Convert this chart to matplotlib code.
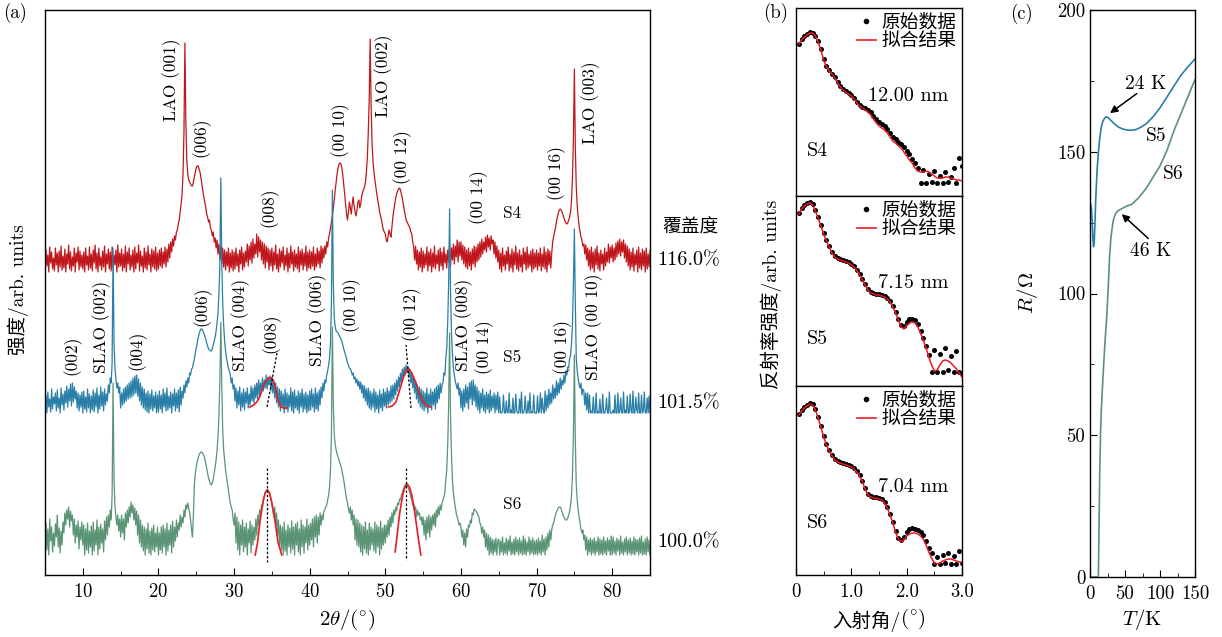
import numpy as np
import matplotlib.pyplot as plt
from matplotlib.lines import Line2D
from matplotlib.ticker import MultipleLocator

plt.rcParams['font.family'] = ['cmr10', 'Noto Sans CJK SC']
plt.rcParams['mathtext.fontset'] = 'cm'
plt.rcParams['axes.formatter.use_mathtext'] = True
plt.rcParams['axes.unicode_minus'] = False
plt.rcParams['axes.linewidth'] = 1.0

W, H = 1222, 637
RED, BLUE, GREEN = '#c0171d', '#2a7fa8', '#5a9475'
FIT = '#ec1b22'

# ---------------- (a) XRD, 2theta from 5 to 85 in 0.125 deg steps (one row = 5 deg)
two_theta = np.arange(5, 85.001, 0.125)

s4_xrd = [2, 22, 6, 17, 0, 25, 9, 20, 3, 14, 1, 24, 7, 19, 0, 21, 5, 26, 2, 16, 4, 23, 0, 18, 8, 27, 3, 20, 1, 15, 6, 24, 0, 19, 10, 25, 2, 21, 5, 17,
          3, 20, 0, 24, 7, 16, 2, 25, 4, 18, 1, 22, 9, 27, 3, 19, 0, 24, 6, 15, 2, 21, 5, 26, 0, 18, 8, 23, 3, 20, 1, 25, 4, 17, 7, 22, 0, 27, 5, 19,
          6, 23, 1, 18, 4, 26, 0, 20, 8, 24, 2, 17, 5, 22, 0, 25, 3, 19, 9, 27, 1, 21, 6, 16, 0, 24, 4, 20, 2, 26, 7, 18, 0, 23, 5, 21, 3, 25, 1, 19,
          3, 22, 6, 24, 4, 20, 8, 25, 5, 23, 10, 28, 14, 30, 20, 33, 26, 36, 32, 40, 42, 48, 52, 60, 68, 78, 98, 140, 229, 150, 112, 98, 92, 90, 88, 86, 86, 90, 95, 100,
          104, 106, 106, 103, 100, 94, 88, 81, 75, 70, 65, 58, 55, 50, 52, 44, 42, 36, 40, 30, 34, 24, 32, 18, 28, 12, 26, 8, 24, 5, 22, 2, 20, 6, 24, 0, 19, 4, 22, 1,
          20, 3, 24, 6, 18, 0, 22, 8, 25, 2, 19, 5, 21, 10, 28, 6, 26, 12, 30, 9, 33, 14, 28, 18, 38, 15, 35, 20, 32, 12, 30, 8, 28, 4, 26, 10, 24, 2, 22, 6,
          24, 1, 20, 7, 27, 3, 18, 0, 23, 5, 21, 9, 25, 2, 17, 6, 24, 0, 19, 4, 26, 8, 20, 1, 22, 5, 18, 3, 25, 0, 21, 7, 23, 2, 19, 6, 26, 1, 20, 4,
          22, 3, 20, 6, 25, 2, 18, 5, 24, 8, 21, 4, 26, 9, 24, 14, 26, 18, 30, 25, 34, 38, 44, 50, 56, 64, 72, 82, 90, 98, 104, 108, 109, 108, 104, 97, 88, 78, 68, 58,
          52, 60, 70, 64, 58, 68, 75, 66, 60, 56, 62, 70, 72, 64, 68, 76, 80, 82, 85, 90, 100, 115, 140, 175, 233, 165, 128, 110, 100, 92, 85, 78, 72, 66, 60, 56, 52, 46, 42, 40,
          38, 32, 30, 36, 42, 38, 35, 45, 55, 62, 68, 74, 78, 81, 83, 84, 82, 78, 74, 68, 62, 57, 52, 50, 48, 46, 44, 40, 38, 30, 25, 12, 26, 8, 22, 2, 20, 5, 24, 0,
          21, 4, 18, 7, 25, 1, 20, 6, 23, 0, 19, 5, 26, 3, 17, 8, 22, 1, 24, 6, 20, 2, 25, 9, 18, 4, 22, 10, 27, 6, 24, 12, 28, 8, 26, 15, 32, 10, 30, 16,
          30, 12, 27, 8, 25, 5, 22, 3, 24, 6, 20, 2, 23, 8, 26, 5, 25, 10, 28, 12, 30, 15, 33, 18, 30, 22, 35, 20, 37, 25, 34, 22, 36, 28, 32, 18, 30, 14, 26, 10,
          22, 3, 19, 0, 24, 6, 17, 2, 21, 8, 25, 1, 18, 4, 23, 0, 20, 7, 26, 3, 19, 1, 22, 5, 17, 0, 24, 8, 20, 2, 25, 4, 18, 6, 21, 0, 23, 3, 19, 5,
          22, 2, 19, 6, 24, 1, 18, 5, 25, 3, 20, 0, 23, 7, 21, 4, 18, 30, 35, 40, 44, 50, 55, 59, 62, 63, 62, 60, 57, 54, 51, 49, 48, 49, 52, 55, 60, 72, 95, 135,
          203, 125, 85, 66, 55, 46, 40, 35, 32, 26, 28, 18, 27, 12, 24, 6, 22, 2, 25, 4, 20, 0, 23, 7, 26, 3, 19, 1, 22, 8, 18, 2, 24, 6, 20, 10, 28, 9, 25, 14,
          27, 10, 24, 12, 29, 15, 31, 18, 33, 16, 30, 20, 32, 14, 28, 10, 26, 6, 23, 2, 20, 5, 24, 1, 18, 7, 22, 0, 25, 4, 19, 2, 23, 6, 21, 0, 24, 3, 18, 5,
          21]

s5_xrd = [3, 18, 0, 21, 6, 14, 1, 24, 4, 16, 9, 20, 2, 23, 5, 15, 0, 25, 8, 19, 3, 22, 10, 27, 6, 24, 12, 29, 7, 30, 11, 26, 14, 22, 5, 20, 2, 18, 6, 21,
          0, 22, 4, 16, 1, 24, 5, 19, 0, 17, 3, 23, 1, 20, 6, 25, 0, 18, 4, 26, 7, 21, 2, 24, 8, 19, 12, 28, 20, 35, 30, 50, 165, 70, 45, 34, 25, 30, 20, 26,
          5, 20, 8, 24, 10, 26, 12, 28, 14, 30, 15, 32, 16, 35, 18, 37, 20, 38, 17, 34, 12, 30, 8, 26, 5, 24, 3, 20, 1, 22, 0, 19, 4, 23, 2, 17, 5, 21, 0, 18,
          1, 22, 4, 18, 0, 24, 6, 20, 2, 25, 3, 17, 5, 21, 0, 19, 7, 24, 2, 20, 5, 23, 1, 26, 8, 22, 15, 28, 20, 32, 26, 35, 30, 40, 38, 44, 45, 50, 54, 60,
          65, 70, 75, 79, 82, 84, 84, 82, 80, 77, 74, 70, 67, 64, 63, 62, 62, 64, 68, 72, 76, 82, 90, 100, 118, 150, 235, 150, 110, 88, 72, 62, 55, 50, 45, 42, 38, 30, 35, 24,
          28, 12, 25, 5, 22, 8, 26, 2, 20, 6, 24, 3, 21, 10, 25, 5, 19, 8, 27, 12, 25, 10, 28, 15, 30, 14, 33, 18, 30, 20, 35, 22, 33, 25, 38, 24, 36, 28, 37, 22,
          36, 20, 33, 15, 30, 10, 26, 6, 24, 2, 22, 5, 19, 0, 24, 4, 20, 1, 18, 6, 25, 2, 21, 0, 23, 5, 17, 3, 22, 0, 20, 6, 24, 1, 19, 4, 21, 0, 18, 2,
          22, 3, 24, 6, 19, 1, 25, 4, 20, 2, 23, 8, 26, 15, 30, 22, 33, 30, 38, 42, 48, 55, 70, 110, 223, 130, 95, 86, 82, 81, 80, 78, 76, 74, 72, 68, 64, 61, 58, 54,
          50, 48, 45, 44, 42, 38, 40, 34, 36, 30, 34, 27, 32, 24, 31, 20, 28, 15, 27, 12, 24, 8, 25, 5, 22, 3, 20, 6, 24, 1, 21, 4, 18, 0, 23, 5, 19, 2, 24, 7,
          21, 5, 25, 8, 22, 10, 27, 12, 28, 14, 30, 18, 33, 22, 36, 26, 40, 30, 44, 35, 46, 38, 48, 40, 46, 36, 44, 30, 40, 25, 36, 20, 32, 14, 28, 10, 26, 6, 24, 4,
          22, 2, 20, 5, 25, 0, 19, 6, 24, 3, 21, 8, 24, 4, 26, 10, 28, 14, 30, 20, 28, 30, 40, 38, 55, 65, 90, 130, 204, 120, 80, 58, 45, 38, 32, 28, 24, 30, 18, 25,
          5, 22, 2, 24, 6, 28, 10, 26, 4, 30, 14, 32, 8, 33, 12, 28, 6, 26, 3, 22, 0, 20, 5, 24, 2, 18, 0, 21, 4, 19, 0, 23, 2, 17, 5, 20, 0, 18, 3, 21,
          0, 16, 0, 0, 2, 18, 0, 0, 12, 0, 1, 20, 0, 3, 0, 15, 0, 0, 19, 2, 0, 0, 14, 0, 21, 0, 0, 3, 17, 0, 0, 12, 0, 20, 0, 1, 0, 18, 0, 0,
          0, 17, 0, 2, 20, 0, 15, 3, 0, 22, 2, 18, 5, 24, 8, 20, 10, 28, 14, 25, 15, 32, 18, 30, 20, 35, 24, 33, 28, 38, 30, 42, 38, 46, 45, 55, 58, 70, 90, 130,
          184, 110, 55, 42, 35, 28, 25, 30, 18, 24, 22, 8, 20, 3, 20, 0, 18, 0, 2, 0, 16, 0, 0, 20, 0, 2, 0, 14, 0, 0, 19, 0, 0, 3, 15, 0, 0, 21, 0, 0,
          0, 3, 0, 18, 0, 0, 20, 0, 2, 15, 0, 0, 21, 0, 3, 0, 17, 0, 0, 19, 2, 0, 22, 0, 0, 16, 3, 0, 20, 0, 0, 18, 0, 2, 21, 0, 0, 15, 0, 17,
          0]

s6_xrd = [12, 32, 5, 26, 0, 36, 14, 28, 3, 22, 9, 31, 18, 40, 8, 27, 2, 24, 10, 33, 22, 42, 30, 45, 36, 48, 28, 44, 34, 40, 20, 36, 12, 30, 18, 34, 6, 28, 15, 33,
          10, 30, 0, 26, 5, 32, 2, 24, 8, 29, 0, 33, 4, 25, 10, 35, 0, 28, 6, 31, 12, 26, 3, 34, 15, 38, 20, 40, 28, 45, 35, 60, 172, 75, 50, 38, 30, 40, 24, 36,
          18, 40, 22, 36, 15, 42, 28, 45, 32, 48, 38, 53, 42, 50, 35, 47, 30, 44, 20, 40, 12, 35, 8, 30, 4, 28, 0, 26, 6, 32, 2, 24, 0, 27, 5, 30, 3, 22, 8, 28,
          0, 22, 5, 28, 2, 30, 8, 26, 0, 32, 4, 25, 10, 30, 2, 34, 8, 28, 14, 35, 18, 32, 25, 40, 28, 38, 32, 45, 38, 50, 46, 52, 48, 42, 35, 25, 18, 40, 70, 82,
          88, 93, 97, 100, 102, 103, 103, 101, 100, 96, 92, 87, 82, 77, 74, 71, 70, 72, 76, 82, 88, 95, 105, 118, 140, 175, 233, 170, 125, 105, 95, 85, 78, 72, 65, 58, 52, 48, 45, 36,
          30, 42, 12, 38, 5, 33, 0, 30, 10, 35, 3, 28, 8, 32, 0, 26, 12, 34, 2, 30, 10, 28, 15, 36, 20, 40, 30, 45, 40, 50, 48, 56, 58, 62, 65, 64, 65, 62, 60, 56,
          50, 45, 38, 48, 30, 42, 20, 35, 10, 30, 5, 28, 0, 33, 4, 25, 0, 30, 8, 27, 2, 34, 6, 28, 0, 31, 10, 33, 3, 26, 0, 35, 8, 30, 2, 28, 12, 36, 5, 30,
          10, 32, 15, 36, 8, 38, 18, 40, 12, 38, 20, 42, 30, 40, 35, 44, 45, 48, 50, 55, 60, 68, 85, 120, 228, 150, 120, 110, 105, 101, 98, 95, 92, 89, 85, 80, 75, 69, 62, 56,
          52, 46, 42, 48, 35, 45, 30, 40, 15, 36, 10, 35, 8, 32, 3, 30, 0, 28, 6, 33, 2, 25, 0, 32, 5, 28, 10, 26, 4, 33, 2, 30, 8, 28, 0, 34, 6, 27, 10, 30,
          12, 30, 18, 35, 20, 38, 28, 42, 32, 45, 40, 48, 44, 52, 50, 56, 55, 60, 62, 66, 68, 70, 71, 70, 68, 65, 62, 58, 55, 50, 52, 45, 48, 38, 45, 40, 42, 35, 38, 30,
          38, 20, 35, 15, 38, 22, 40, 18, 38, 25, 40, 30, 42, 28, 45, 38, 48, 40, 50, 45, 52, 55, 58, 62, 75, 85, 110, 150, 222, 140, 100, 75, 62, 55, 48, 42, 38, 35, 30, 32,
          28, 18, 25, 10, 22, 8, 26, 18, 30, 28, 35, 32, 42, 40, 46, 45, 44, 42, 40, 38, 32, 30, 22, 28, 18, 25, 8, 22, 5, 20, 0, 18, 2, 16, 0, 15, 3, 17, 0, 14,
          16, 0, 14, 3, 18, 0, 12, 2, 17, 0, 15, 4, 19, 0, 13, 1, 16, 0, 18, 3, 15, 0, 17, 2, 14, 0, 19, 1, 16, 0, 13, 3, 18, 0, 15, 2, 17, 0, 14, 1,
          15, 0, 17, 2, 14, 0, 20, 3, 16, 0, 18, 5, 22, 8, 25, 15, 25, 30, 32, 36, 40, 43, 45, 47, 48, 48, 46, 43, 40, 38, 36, 35, 35, 37, 40, 44, 50, 60, 80, 120,
          200, 115, 70, 55, 45, 38, 32, 26, 22, 25, 15, 20, 5, 18, 0, 15, 3, 17, 0, 15, 2, 17, 0, 14, 3, 18, 0, 16, 1, 15, 0, 18, 2, 14, 0, 17, 4, 15, 0, 19,
          0, 18, 2, 14, 0, 17, 4, 15, 0, 19, 2, 13, 0, 16, 3, 18, 0, 15, 2, 17, 0, 14, 1, 18, 0, 16, 3, 15, 0, 17, 2, 19, 0, 13, 1, 16, 0, 18, 3, 15,
          0]

# gaussian fits of the (008) and (00 12) film peaks
s5_fit008_x = [32.1, 32.6, 33.0, 33.4, 33.8, 34.2, 34.6, 35.0, 35.4, 35.8, 36.2, 36.6, 37.0]
s5_fit008_y = [6, 8, 11, 16, 26, 32, 35, 35, 28, 13, 6, 5, 5]
s5_fit0012_x = [50.4, 50.9, 51.4, 51.9, 52.4, 52.8, 53.1, 53.5, 54.0, 54.5, 55.0, 55.5, 56.0]
s5_fit0012_y = [6, 7, 11, 23, 36, 43, 44, 40, 31, 20, 11, 7, 6]
s6_fit008_x = [32.8, 33.1, 33.4, 33.8, 34.1, 34.4, 34.7, 35.0, 35.4, 35.8, 36.3]
s6_fit008_y = [0, 12, 32, 52, 62, 65, 62, 52, 35, 13, 0]
s6_fit0012_x = [51.3, 51.6, 51.9, 52.3, 52.6, 52.9, 53.2, 53.5, 53.9, 54.3, 54.7]
s6_fit0012_y = [3, 22, 42, 60, 68, 71, 68, 60, 42, 20, 0]

# peak centre markers (x pair, y pair)
s5_mark008 = ([34.36, 35.68], [6, 60])
s5_mark0012 = ([53.4, 52.74], [5, 68])
s6_mark008 = ([34.36, 34.36], [87, -7])
s6_mark0012 = ([52.8, 52.8], [87, -5])

coverage = ['116.0%', '101.5%', '100.0%']

# ---------------- (b) XRR
angle = np.arange(0.05, 3.001, 0.05)
s4_xrr_data = [152, 157, 160, 162, 164, 163, 160, 155, 147, 137, 130, 126, 122, 119, 114, 110, 107, 105, 103, 101,
               98, 94, 91, 89, 88, 86, 84, 80, 77, 74, 72, 70, 67, 63, 59, 57, 54, 52, 49, 45,
               42, 37, 33, 28, 13, 26, 13, 22, 14, 25, 13, 20, 13, 24, 14, 19, 28, 13, 38, 30]
s4_xrr_fit = [152, 156, 159, 161, 163, 163, 160, 154, 146, 136, 129, 125, 122, 118, 113, 109, 106, 104, 102, 100,
              97, 93, 90, 88, 86, 84, 81, 77, 73, 70, 68, 66, 63, 59, 55, 53, 50, 48, 44, 40,
              36, 33, 28, 25, 24, 24, 25, 24, 22, 20, 18, 18, 18, 19, 19, 18, 17, 16, 16, 15]
s5_xrr_data = [173, 178, 181, 183, 184, 182, 176, 169, 161, 153, 146, 140, 134, 130, 128, 127, 126, 125, 124, 122,
               120, 116, 112, 107, 102, 97, 94, 93, 92, 92, 91, 90, 88, 85, 80, 74, 67, 61, 60, 64,
               67, 67, 66, 62, 55, 48, 40, 31, 14, 36, 14, 32, 14, 38, 16, 30, 14, 35, 14, 12]
s5_xrr_fit = [172, 177, 180, 182, 183, 181, 175, 168, 160, 152, 145, 139, 133, 129, 127, 126, 125, 124, 123, 121,
              119, 115, 111, 106, 101, 96, 93, 92, 91, 91, 90, 89, 87, 84, 79, 73, 66, 59, 57, 60,
              63, 64, 63, 59, 53, 46, 38, 29, 21, 15, 16, 21, 25, 26, 25, 23, 20, 17, 13, 9]
s6_xrr_data = [161, 165, 168, 170, 172, 171, 166, 158, 149, 139, 131, 125, 120, 116, 114, 113, 112, 111, 110, 109,
               107, 104, 100, 94, 87, 81, 79, 78, 78, 77, 76, 73, 68, 61, 53, 44, 37, 35, 38, 43,
               46, 47, 46, 45, 43, 40, 34, 27, 22, 11, 18, 11, 20, 12, 22, 11, 19, 11, 24, 12]
s6_xrr_fit = [160, 164, 167, 169, 171, 170, 165, 157, 148, 138, 130, 124, 119, 115, 113, 112, 111, 110, 109, 108,
              106, 103, 99, 93, 86, 80, 78, 77, 77, 76, 75, 72, 67, 60, 52, 43, 36, 33, 35, 39,
              41, 42, 42, 41, 39, 36, 30, 23, 17, 12, 11, 12, 14, 15, 16, 16, 15, 14, 13, 12]
thickness = ['12.00 nm', '7.15 nm', '7.04 nm']

# ---------------- (c) R-T
t_s5 = [1, 2, 3, 4, 5, 6, 7, 8, 10, 12, 14, 16, 18, 20, 22, 24, 26, 30, 35, 40, 45, 50, 55, 60, 65, 70,
        80, 90, 100, 110, 120, 130, 140, 150]
r_s5 = [131.5, 130, 126, 120, 116.5, 118, 124, 132, 143, 150, 155, 158.5, 160.5, 161.5, 162.2, 162.3, 162,
        161, 159.8, 158.8, 158.2, 157.8, 157.6, 157.6, 157.8, 158.3, 159.8, 162.3, 165.5, 169.3, 173.2,
        177, 180, 182.7]
t_s6 = [0, 4, 8, 10, 11, 12, 13, 14, 15, 16, 18, 20, 22, 24, 26, 28, 30, 33, 36, 40, 46, 52, 60, 70, 80,
        90, 100, 110, 120, 130, 140, 150]
r_s6 = [0, 0, 0, 0, 0, 0.5, 20, 38, 50, 58, 68, 77, 85, 92, 102, 113, 120, 125.5, 128, 129.2, 130, 130.8,
        131.5, 133.9, 137, 141, 145, 150.5, 157.5, 163.5, 169.5, 175.5]


fig = plt.figure(figsize=(W / 100, H / 100), dpi=100)


def px_axes(left, top, right, bottom):
    return fig.add_axes([left / W, 1 - bottom / H, (right - left) / W, (bottom - top) / H])


def ftext(x, y, s, **kw):
    kw.setdefault('ha', 'center')
    kw.setdefault('va', 'center')
    fig.text(x / W, 1 - y / H, s, **kw)


# ===== (a)
ax = px_axes(45, 10, 650, 575)
ax.set_xlim(5, 85)
ax.set_ylim(0, 565)
off4, off5, off6 = 303, 162, 20
ax.plot(two_theta, np.array(s4_xrd) + off4, color=RED, lw=0.9)
ax.plot(two_theta, np.array(s5_xrd) + off5, color=BLUE, lw=0.9)
ax.plot(two_theta, np.array(s6_xrd) + off6, color=GREEN, lw=0.9)

for fx, fy, off in [(s5_fit008_x, s5_fit008_y, off5), (s5_fit0012_x, s5_fit0012_y, off5),
                    (s6_fit008_x, s6_fit008_y, off6), (s6_fit0012_x, s6_fit0012_y, off6)]:
    ax.plot(fx, np.array(fy) + off, color=FIT, lw=1.2)
for (mx, my), off in [(s5_mark008, off5), (s5_mark0012, off5), (s6_mark008, off6), (s6_mark0012, off6)]:
    ax.plot(mx, np.array(my) + off, color='k', lw=0.9, ls=(0, (2, 1.5)))

ax.set_yticks([])
ax.set_xticks([10, 20, 30, 40, 50, 60, 70, 80])
ax.xaxis.set_minor_locator(MultipleLocator(5))
ax.tick_params(axis='x', which='both', direction='in', labelsize=13.5, pad=6)
ax.tick_params(axis='x', which='major', length=5)
ax.tick_params(axis='x', which='minor', length=3)

peak_labels = [
    ('LAO (001)', 21.8, 495), ('(006)', 25.6, 438), ('(008)', 34.6, 368), ('(00 10)', 44.1, 445),
    ('LAO (002)', 49.8, 499), ('(00 12)', 52.3, 418), ('(00 14)', 62.4, 378), ('(00 16)', 72.7, 402),
    ('LAO (003)', 77.1, 472),
    ('(002)', 8.6, 220), ('SLAO (002)', 12.5, 248), ('(004)', 17.2, 225), ('(006)', 25.8, 269),
    ('SLAO (004)', 30.9, 250), ('(008)', 34.9, 242), ('SLAO (006)', 41.1, 255), ('(00 10)', 45.5, 270),
    ('(00 12)', 53.5, 261), ('SLAO (008)', 60.3, 250), ('(00 14)', 63.1, 228), ('(00 16)', 73.5, 228),
    ('SLAO (00 10)', 77.5, 248),
]
for s, x, y in peak_labels:
    ax.text(x, y, s, rotation=90, ha='center', va='center', fontsize=12.5)
for s, y in [('S4', 362), ('S5', 218), ('S6', 71)]:
    ax.text(66.8, y, s, ha='center', va='center', fontsize=12.5)

ax.text(90.3, 347, '覆盖度', ha='center', va='center', fontsize=13.5, clip_on=False)
for s, y in zip(coverage, [315, 172, 33]):
    ax.text(86.0, y, s, ha='left', va='center', fontsize=14.5, clip_on=False)

ftext(15, 13, '(a)', fontsize=13.5)
ftext(18, 290, '强度/arb. units', rotation=90, fontsize=14)
ftext(347, 620, r'$2\theta/(^{\circ})$', fontsize=15)

# ===== (b)
boxes = [(8, 196), (196, 386), (386, 575)]
xrr = [(s4_xrr_data, s4_xrr_fit), (s5_xrr_data, s5_xrr_fit), (s6_xrr_data, s6_xrr_fit)]
sample_y = [45, 47, 52]
thick_pos = [(2.02, 100), (2.11, 103), (2.11, 88)]
for i, ((top, bot), (dat, fit)) in enumerate(zip(boxes, xrr)):
    axb = px_axes(796, top, 962, bot)
    axb.set_xlim(0, 3.0)
    axb.set_ylim(0, bot - top)
    axb.plot(angle, dat, ls='none', marker='o', ms=3.6, color='k', mew=0)
    axb.plot(angle, fit, color=FIT, lw=1.1)
    axb.set_yticks([])
    if i < 2:
        axb.set_xticks([])
    else:
        axb.set_xticks([0, 1, 2, 3], ['0', '1.0', '2.0', '3.0'])
        axb.xaxis.set_minor_locator(MultipleLocator(0.5))
        axb.tick_params(axis='x', which='both', direction='in', labelsize=13.5, pad=6)
        axb.tick_params(axis='x', which='major', length=5)
        axb.tick_params(axis='x', which='minor', length=3)
    handles = [Line2D([], [], ls='none', marker='o', ms=3, color='k'),
               Line2D([], [], color=FIT, lw=1.2)]
    axb.legend(handles, ['原始数据', '拟合结果'], loc='upper right', frameon=False, fontsize=13.5,
               handlelength=1.0, handletextpad=0.3, labelspacing=0.05, borderaxespad=0.1, borderpad=0.2)
    axb.text(0.2, sample_y[i], 'S%d' % (i + 4), ha='left', va='center', fontsize=14.5)
    axb.text(thick_pos[i][0], thick_pos[i][1], thickness[i], ha='center', va='center', fontsize=14.5)

ftext(776, 13, '(b)', fontsize=13.5)
ftext(771, 294, '反射率强度/arb. units', rotation=90, fontsize=14)
# CJK part and the degree part are drawn separately (cmr10 has no degree sign)
ftext(900, 621, '入射角/', ha='right', fontsize=14)
ftext(900, 619, r'$(^{\circ})$', ha='left', fontsize=15)

# ===== (c)
axc = px_axes(1090, 10, 1195, 577)
axc.plot(t_s5, r_s5, color=BLUE, lw=1.2)
axc.plot(t_s6, r_s6, color=GREEN, lw=1.2)
axc.set_xlim(0, 150)
axc.set_ylim(0, 200)
axc.set_xticks([0, 50, 100, 150], ['0', '50', '100', '150'])
axc.set_yticks([0, 50, 100, 150, 200], ['0', '50', '100', '150', '200'])
axc.xaxis.set_minor_locator(MultipleLocator(25))
axc.yaxis.set_minor_locator(MultipleLocator(25))
axc.tick_params(which='both', direction='in', labelsize=13.5)
axc.tick_params(which='major', length=5)
axc.tick_params(which='minor', length=3)
axc.tick_params(axis='x', pad=6)

arrow = dict(arrowstyle='-|>', color='k', lw=1.1, mutation_scale=11, shrinkA=0, shrinkB=0)
axc.annotate('', xy=(28.6, 163.6), xytext=(66.7, 170.5), arrowprops=arrow)
axc.annotate('', xy=(45.3, 128.0), xytext=(83.3, 119.4), arrowprops=arrow)
axc.text(80, 174, '24 K', ha='center', va='center', fontsize=14)
axc.text(86.4, 115, '46 K', ha='center', va='center', fontsize=14)
axc.text(95, 155.4, 'S5', ha='center', va='center', fontsize=14)
axc.text(119, 142, 'S6', ha='center', va='center', fontsize=14)

ftext(1021, 14, '(c)', fontsize=13.5)
ftext(1027, 293, r'$R/\Omega$', rotation=90, fontsize=15)
ftext(1142, 620, r'$T/\mathrm{K}$', fontsize=15)

fig.savefig('out.png', dpi=100)
